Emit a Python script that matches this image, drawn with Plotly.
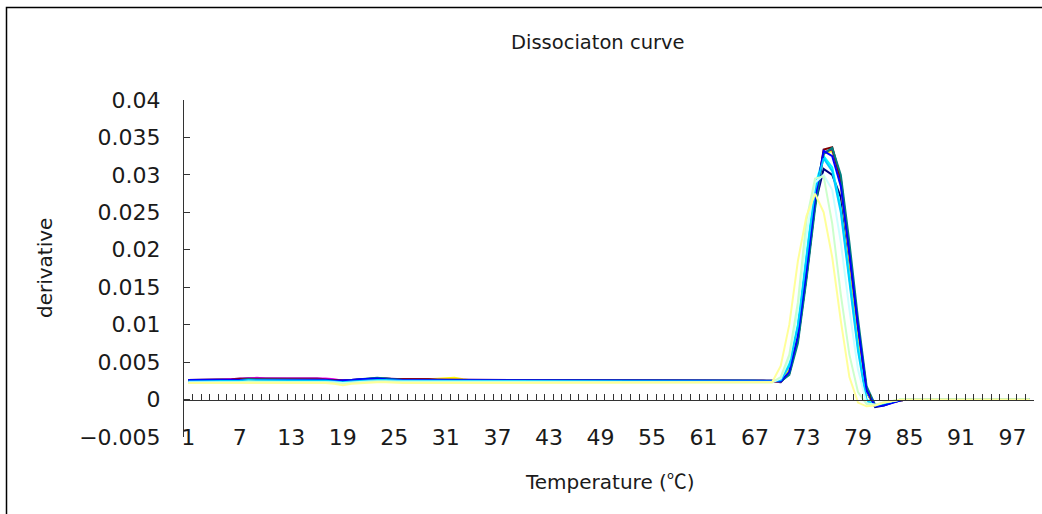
import plotly.graph_objects as go

# ---------------- data ----------------
categories = list(range(1, 100))
x_tick_labels = ["1", "7", "13", "19", "25", "31", "37", "43", "49", "55", "61", "67", "73", "79", "85", "91", "97"]
x_tick_values = [1, 7, 13, 19, 25, 31, 37, 43, 49, 55, 61, 67, 73, 79, 85, 91, 97]
y_tick_values = [0.04, 0.035, 0.03, 0.025, 0.02, 0.015, 0.01, 0.005, 0, -0.005]
y_tick_labels = ["0.04", "0.035", "0.03", "0.025", "0.02", "0.015", "0.01", "0.005", "0", "\u22120.005"]

tail = [0, 0, 0, 0, 0, 0, 0, 0, 0, 0, 0, 0, 0, 0, 0]  # categories 85-99

navy = [0.0026,0.0026,0.0026,0.0026,0.0027,0.0027,0.0027,0.0028,0.0028,0.0028,
        0.0027,0.0027,0.0027,0.0028,0.0028,0.0028,0.0027,0.0026,0.0025,0.0025,
        0.0027,0.0028,0.0028,0.0028,0.0027,0.0026,0.0026,0.0026,0.0026,0.0026,
        0.0026,0.0026,0.0026,0.0026,0.0026,0.0026,0.0026,0.0026,0.0026,0.0026,
        0.0026,0.0026,0.0025,0.0025,0.0025,0.0025,0.0025,0.0025,0.0025,0.0025,
        0.0025,0.0025,0.0025,0.0025,0.0025,0.0025,0.0025,0.0025,0.0025,0.0025,
        0.0025,0.0025,0.0025,0.0025,0.0025,0.0025,0.0025,
        0.0025,0.0024,0.0023,0.0035,0.0080,0.0165,0.0260,0.0308,0.0300,0.0270,
        0.0185,0.0090,0.0010,-0.0010,-0.0008,-0.0004,-0.0001] + tail
magenta = [0.0025,0.0025,0.0026,0.0026,0.0026,0.0027,0.0028,0.0029,0.0029,0.0028,
           0.0028,0.0028,0.0029,0.0029,0.0029,0.0029,0.0028,0.0027,0.0025,0.0026,
           0.0027,0.0027,0.0028,0.0027,0.0027,0.0027,0.0028,0.0028,0.0027,0.0027,
           0.0026,0.0026,0.0026,0.0026,0.0026,0.0026,0.0027,0.0027,0.0027,0.0026,
           0.0026,0.0026,0.0025,0.0025,0.0025,0.0025,0.0025,0.0025,0.0025,0.0025,
           0.0025,0.0025,0.0025,0.0025,0.0025,0.0025,0.0025,0.0025,0.0025,0.0025,
           0.0025,0.0025,0.0025,0.0025,0.0025,0.0025,0.0025,
           0.0025,0.0025,0.0024,0.0038,0.0085,0.0170,0.0265,0.0330,0.0333,0.0290,
           0.0195,0.0095,0.0012,-0.0008,-0.0006,-0.0003,-0.0001] + tail
yellow = [0.0023,0.0023,0.0023,0.0023,0.0023,0.0024,0.0024,0.0025,0.0025,0.0025,
          0.0025,0.0025,0.0025,0.0025,0.0025,0.0025,0.0025,0.0024,0.0022,0.0023,
          0.0025,0.0025,0.0025,0.0025,0.0025,0.0025,0.0025,0.0026,0.0027,0.0028,
          0.0029,0.0029,0.0027,0.0025,0.0024,0.0024,0.0024,0.0024,0.0024,0.0024,
          0.0024,0.0024,0.0024,0.0024,0.0024,0.0024,0.0024,0.0024,0.0024,0.0024,
          0.0024,0.0024,0.0024,0.0024,0.0024,0.0024,0.0024,0.0024,0.0024,0.0024,
          0.0024,0.0024,0.0024,0.0024,0.0024,0.0024,0.0024,
          0.0024,0.0024,0.0024,0.0040,0.0088,0.0172,0.0265,0.0328,0.0332,0.0285,
          0.0190,0.0090,0.0010,-0.0008,-0.0006,-0.0003,-0.0001] + tail
cyan = [0.0025,0.0025,0.0025,0.0025,0.0025,0.0026,0.0026,0.0026,0.0027,0.0027,
        0.0027,0.0027,0.0027,0.0027,0.0027,0.0027,0.0026,0.0025,0.0024,0.0025,
        0.0026,0.0027,0.0027,0.0027,0.0026,0.0026,0.0026,0.0026,0.0026,0.0026,
        0.0026,0.0025,0.0025,0.0025,0.0025,0.0025,0.0025,0.0026,0.0026,0.0026,
        0.0025,0.0025,0.0025,0.0025,0.0025,0.0025,0.0025,0.0025,0.0025,0.0025,
        0.0025,0.0025,0.0025,0.0025,0.0025,0.0025,0.0025,0.0025,0.0025,0.0025,
        0.0025,0.0025,0.0025,0.0025,0.0025,0.0025,0.0025,
        0.0024,0.0024,0.0026,0.0048,0.0100,0.0195,0.0285,0.0325,0.0310,0.0255,
        0.0160,0.0070,0.0000,-0.0008,-0.0005,-0.0002,0.0000] + tail
purple = [0.0026,0.0026,0.0026,0.0026,0.0027,0.0027,0.0028,0.0028,0.0029,0.0028,
          0.0028,0.0028,0.0028,0.0028,0.0028,0.0028,0.0027,0.0026,0.0025,0.0026,
          0.0027,0.0028,0.0028,0.0028,0.0027,0.0027,0.0027,0.0027,0.0027,0.0027,
          0.0026,0.0026,0.0026,0.0026,0.0026,0.0026,0.0026,0.0026,0.0026,0.0026,
          0.0026,0.0025,0.0025,0.0025,0.0025,0.0025,0.0025,0.0025,0.0025,0.0025,
          0.0025,0.0025,0.0025,0.0025,0.0025,0.0025,0.0025,0.0025,0.0025,0.0025,
          0.0025,0.0025,0.0025,0.0025,0.0025,0.0025,0.0025,
          0.0025,0.0025,0.0024,0.0036,0.0082,0.0168,0.0262,0.0330,0.0334,0.0292,
          0.0198,0.0098,0.0013,-0.0008,-0.0006,-0.0003,-0.0001] + tail
maroon = [0.0025,0.0025,0.0025,0.0026,0.0026,0.0026,0.0027,0.0027,0.0027,0.0027,
          0.0027,0.0027,0.0027,0.0027,0.0027,0.0027,0.0026,0.0026,0.0025,0.0025,
          0.0026,0.0027,0.0027,0.0027,0.0027,0.0027,0.0028,0.0028,0.0027,0.0026,
          0.0026,0.0026,0.0026,0.0026,0.0026,0.0026,0.0026,0.0026,0.0026,0.0026,
          0.0025,0.0025,0.0025,0.0025,0.0025,0.0025,0.0025,0.0025,0.0025,0.0025,
          0.0025,0.0025,0.0025,0.0025,0.0025,0.0025,0.0025,0.0025,0.0025,0.0025,
          0.0025,0.0025,0.0025,0.0025,0.0025,0.0025,0.0025,
          0.0025,0.0025,0.0024,0.0035,0.0080,0.0165,0.0262,0.0334,0.0337,0.0295,
          0.0200,0.0100,0.0014,-0.0008,-0.0006,-0.0003,-0.0001] + tail
teal = [0.0025,0.0025,0.0025,0.0025,0.0026,0.0026,0.0026,0.0027,0.0027,0.0027,
        0.0027,0.0027,0.0027,0.0027,0.0027,0.0027,0.0026,0.0025,0.0024,0.0026,
        0.0027,0.0028,0.0029,0.0028,0.0027,0.0026,0.0026,0.0026,0.0026,0.0026,
        0.0026,0.0026,0.0026,0.0025,0.0025,0.0025,0.0025,0.0025,0.0025,0.0025,
        0.0025,0.0025,0.0025,0.0025,0.0025,0.0025,0.0025,0.0025,0.0025,0.0025,
        0.0025,0.0025,0.0025,0.0025,0.0025,0.0025,0.0025,0.0025,0.0025,0.0025,
        0.0025,0.0025,0.0025,0.0025,0.0025,0.0025,0.0025,
        0.0025,0.0025,0.0024,0.0033,0.0075,0.0160,0.0255,0.0328,0.0336,0.0300,
        0.0210,0.0108,0.0018,-0.0007,-0.0006,-0.0003,-0.0001] + tail
blue = [0.0026,0.0026,0.0026,0.0026,0.0026,0.0026,0.0027,0.0027,0.0027,0.0027,
        0.0027,0.0027,0.0027,0.0027,0.0027,0.0027,0.0026,0.0025,0.0025,0.0026,
        0.0027,0.0028,0.0028,0.0027,0.0026,0.0026,0.0026,0.0026,0.0026,0.0026,
        0.0026,0.0026,0.0026,0.0026,0.0026,0.0026,0.0026,0.0026,0.0026,0.0026,
        0.0026,0.0026,0.0026,0.0026,0.0026,0.0026,0.0026,0.0026,0.0026,0.0026,
        0.0026,0.0026,0.0026,0.0026,0.0026,0.0026,0.0026,0.0026,0.0026,0.0026,
        0.0026,0.0026,0.0026,0.0026,0.0026,0.0026,0.0026,
        0.0025,0.0025,0.0024,0.0037,0.0085,0.0172,0.0268,0.0332,0.0325,0.0285,
        0.0195,0.0098,0.0012,-0.0009,-0.0008,-0.0004,-0.0001] + tail
sky_blue = [0.0024,0.0024,0.0024,0.0024,0.0025,0.0025,0.0025,0.0026,0.0026,0.0026,
            0.0026,0.0026,0.0026,0.0026,0.0026,0.0026,0.0025,0.0024,0.0023,0.0024,
            0.0025,0.0026,0.0026,0.0026,0.0025,0.0025,0.0025,0.0025,0.0025,0.0025,
            0.0025,0.0025,0.0025,0.0025,0.0025,0.0025,0.0025,0.0025,0.0025,0.0025,
            0.0024,0.0024,0.0024,0.0024,0.0024,0.0024,0.0024,0.0024,0.0024,0.0024,
            0.0024,0.0024,0.0024,0.0024,0.0024,0.0024,0.0024,0.0024,0.0024,0.0024,
            0.0024,0.0024,0.0024,0.0024,0.0024,0.0024,0.0024,
            0.0024,0.0024,0.0026,0.0045,0.0098,0.0190,0.0280,0.0322,0.0305,0.0250,
            0.0155,0.0065,-0.0002,-0.0008,-0.0005,-0.0002,0.0000] + tail
light_turquoise = [0.0023,0.0023,0.0023,0.0023,0.0023,0.0024,0.0024,0.0024,0.0024,0.0024,
                   0.0024,0.0024,0.0024,0.0024,0.0024,0.0024,0.0024,0.0023,0.0022,0.0023,
                   0.0024,0.0024,0.0024,0.0024,0.0024,0.0024,0.0024,0.0024,0.0024,0.0024,
                   0.0024,0.0024,0.0024,0.0023,0.0023,0.0023,0.0023,0.0023,0.0023,0.0023,
                   0.0023,0.0023,0.0023,0.0023,0.0023,0.0023,0.0023,0.0023,0.0023,0.0023,
                   0.0023,0.0023,0.0023,0.0023,0.0023,0.0023,0.0023,0.0023,0.0023,0.0023,
                   0.0023,0.0023,0.0023,0.0023,0.0023,0.0023,0.0023,
                   0.0023,0.0023,0.0028,0.0055,0.0120,0.0220,0.0290,0.0300,0.0280,0.0210,
                   0.0120,0.0040,-0.0005,-0.0007,-0.0004,-0.0002,0.0000] + tail
light_green = [0.0022,0.0022,0.0022,0.0022,0.0022,0.0023,0.0023,0.0024,0.0024,0.0024,
               0.0024,0.0024,0.0024,0.0024,0.0024,0.0024,0.0023,0.0022,0.0021,0.0022,
               0.0023,0.0024,0.0024,0.0024,0.0023,0.0023,0.0023,0.0023,0.0023,0.0023,
               0.0023,0.0023,0.0023,0.0023,0.0023,0.0023,0.0023,0.0023,0.0023,0.0023,
               0.0023,0.0023,0.0023,0.0023,0.0023,0.0023,0.0023,0.0023,0.0023,0.0023,
               0.0023,0.0023,0.0023,0.0023,0.0023,0.0023,0.0023,0.0023,0.0023,0.0023,
               0.0023,0.0023,0.0023,0.0023,0.0023,0.0023,0.0023,
               0.0023,0.0023,0.0030,0.0060,0.0130,0.0240,0.0295,0.0298,0.0235,0.0140,
               0.0060,0.0010,-0.0006,-0.0007,-0.0004,-0.0002,0.0000] + tail
light_yellow = [0.0022,0.0022,0.0022,0.0022,0.0022,0.0022,0.0022,0.0023,0.0023,0.0023,
                0.0023,0.0023,0.0023,0.0023,0.0023,0.0023,0.0022,0.0021,0.0019,0.0021,
                0.0022,0.0023,0.0023,0.0023,0.0022,0.0022,0.0022,0.0022,0.0022,0.0022,
                0.0022,0.0022,0.0022,0.0022,0.0022,0.0022,0.0022,0.0022,0.0022,0.0022,
                0.0022,0.0022,0.0022,0.0022,0.0022,0.0022,0.0022,0.0022,0.0022,0.0022,
                0.0022,0.0022,0.0022,0.0022,0.0022,0.0022,0.0022,0.0022,0.0022,0.0022,
                0.0022,0.0022,0.0022,0.0022,0.0022,0.0022,0.0022,
                0.0022,0.0023,0.0045,0.0100,0.0185,0.0245,0.0275,0.0250,0.0190,0.0105,
                0.0030,-0.0004,-0.0009,-0.0008,-0.0004,-0.0002,0.0000] + tail

series = [
    ("1", navy, "#000080"),
    ("2", magenta, "#FF00FF"),
    ("3", yellow, "#FFFF00"),
    ("4", cyan, "#00FFFF"),
    ("5", purple, "#800080"),
    ("6", maroon, "#800000"),
    ("7", teal, "#008080"),
    ("8", blue, "#0000FF"),
    ("9", sky_blue, "#00CCFF"),
    ("10", light_turquoise, "#CCFFFF"),
    ("11", light_green, "#CCFFCC"),
    ("12", light_yellow, "#FFFF99"),
]

FONT = "DejaVu Sans, Noto Sans CJK KR, sans-serif"
TXT = "#1a1a1a"

fig = go.Figure()
for i, (name, vals, col) in enumerate(series):
    fig.add_trace(go.Scatter(
        x=categories, y=vals, mode="lines", name=name,
        line=dict(color=col, width=2),
        xaxis="x2" if i == len(series) - 1 else "x",
        yaxis="y",
        showlegend=False, hoverinfo="skip",
    ))

W, H = 1042, 514
L, R, T, B = 184, 8, 100, 77
pw, ph = W - L - R, H - T - B

def px_x(x):
    return (x - L) / pw

def px_y(y):
    return (H - B - y) / ph

fig.update_layout(
    width=W, height=H,
    margin=dict(l=L, r=R, t=T, b=B, pad=0),
    paper_bgcolor="white", plot_bgcolor="white",
    font=dict(family=FONT, color=TXT, size=20),
    showlegend=False,
    xaxis=dict(
        range=[0.5, 99.5], anchor="free", position=px_y(422),
        showgrid=False, zeroline=False, showline=False, ticks="",
        tickmode="array", tickvals=x_tick_values, ticktext=x_tick_labels,
        tickfont=dict(size=22, family=FONT, color=TXT),
    ),
    xaxis2=dict(
        range=[0.5, 99.5], overlaying="x", matches="x", anchor="free",
        position=px_y(399.6), side="bottom",
        showgrid=False, zeroline=False, showline=True, linecolor="#333333", linewidth=1,
        ticks="inside", ticklen=6, tickwidth=1, tickcolor="#333333",
        tickmode="linear", tick0=0.5, dtick=1, showticklabels=False,
    ),
    yaxis=dict(
        range=[-0.005, 0.04], showgrid=False, zeroline=False,
        showline=True, linecolor="#333333", linewidth=1,
        ticks="inside", ticklen=6, tickwidth=1, tickcolor="#333333",
        tickmode="array", tickvals=y_tick_values, ticktext=y_tick_labels,
        tickfont=dict(size=22, family=FONT, color=TXT),
        ticklabelstandoff=18,
    ),
    annotations=[
        dict(text="Dissociaton curve", x=px_x(598), y=px_y(42), xref="paper", yref="paper",
             showarrow=False, xanchor="center", yanchor="middle",
             font=dict(size=19.5, family=FONT, color=TXT)),
        dict(text="Temperature (<span style='font-family:Noto Sans CJK KR'>\u2103</span>)",
             x=px_x(610), y=px_y(480), xref="paper", yref="paper",
             showarrow=False, xanchor="center", yanchor="middle",
             font=dict(size=20, family=FONT, color=TXT)),
        dict(text="derivative", x=px_x(45), y=px_y(268), xref="paper", yref="paper",
             showarrow=False, xanchor="center", yanchor="middle", textangle=-90,
             font=dict(size=20, family=FONT, color=TXT)),
    ],
    shapes=[
        dict(type="rect", xref="paper", yref="paper",
             x0=px_x(6.5), x1=px_x(1060), y0=px_y(530), y1=px_y(7.5),
             line=dict(color="black", width=1.5), fillcolor="rgba(0,0,0,0)", layer="above"),
    ],
)

fig.write_html("out.html")
